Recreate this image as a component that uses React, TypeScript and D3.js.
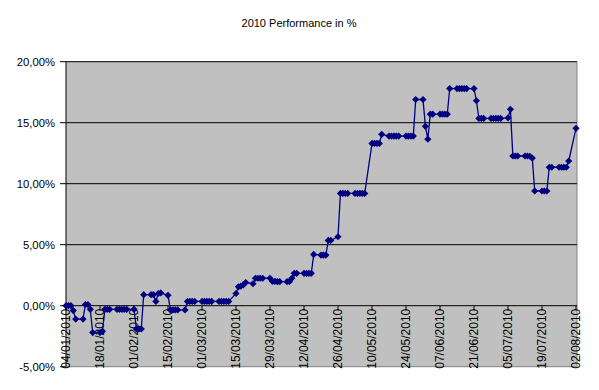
import React from "react";
import * as d3 from "d3";

const title = "2010 Performance in %";
const startDate = "2010-01-04";
const endDate = "2010-08-02";
// one value per business day (Mon..Fri), weeks starting 04/01/2010
const week01 = [0, 0, 0, -0.4, -1.1];
const week02 = [-1.1, 0.1, 0.1, -0.3, -2.2];
const week03 = [-2.2, -2.1, -0.3, -0.3, -0.3];
const week04 = [-0.3, -0.3, -0.3, -0.3, -0.3];
const week05 = [-0.3, -1.9, -1.9, -1.9, 0.9];
const week06 = [0.9, 0.9, 0.35, 1.0, 1.05];
const week07 = [0.85, -0.35, -0.35, -0.35, -0.35];
const week08 = [-0.35, 0.35, 0.35, 0.35, 0.35];
const week09 = [0.35, 0.35, 0.35, 0.35, 0.35];
const week10 = [0.35, 0.35, 0.35, 0.35, 0.35];
const week11 = [1.0, 1.55, 1.6, 1.7, 1.9];
const week12 = [1.8, 2.25, 2.25, 2.25, 2.25];
const week13 = [2.25, 2.0, 2.0, 1.97, 1.97];
const week14 = [1.97, 1.97, 2.25, 2.65, 2.65];
const week15 = [2.65, 2.65, 2.65, 2.65, 4.2];
const week16 = [4.15, 4.15, 4.15, 5.35, 5.35];
const week17 = [5.65, 9.2, 9.2, 9.2, 9.2];
const week18 = [9.2, 9.2, 9.2, 9.2, 9.2];
const week19 = [13.3, 13.3, 13.3, 13.3, 14.05];
const week20 = [13.9, 13.9, 13.9, 13.9, 13.9];
const week21 = [13.9, 13.9, 13.9, 13.9, 16.9];
const week22 = [16.9, 14.7, 13.65, 15.7, 15.7];
const week23 = [15.7, 15.7, 15.7, 15.7, 17.8];
const week24 = [17.8, 17.8, 17.8, 17.8, 17.8];
const week25 = [17.8, 16.8, 15.35, 15.35, 15.35];
const week26 = [15.35, 15.35, 15.35, 15.35, 15.35];
const week27 = [15.4, 16.1, 12.27, 12.27, 12.27];
const week28 = [12.27, 12.27, 12.25, 12.1, 9.4];
const week29 = [9.4, 9.4, 9.4, 11.35, 11.35];
const week30 = [11.35, 11.35, 11.35, 11.35, 11.86];
const week31 = [14.54];

const weeks = [week01, week02, week03, week04, week05, week06, week07, week08, week09, week10,
  week11, week12, week13, week14, week15, week16, week17, week18, week19, week20,
  week21, week22, week23, week24, week25, week26, week27, week28, week29, week30, week31];

const yTicks = [-5, 0, 5, 10, 15, 20];
const xTickLabels = ["04/01/2010", "18/01/2010", "01/02/2010", "15/02/2010", "01/03/2010", "15/03/2010",
  "29/03/2010", "12/04/2010", "26/04/2010", "10/05/2010", "24/05/2010", "07/06/2010", "21/06/2010",
  "05/07/2010", "19/07/2010", "02/08/2010"];

const parse = d3.timeParse("%Y-%m-%d");
const parseLabel = d3.timeParse("%d/%m/%Y");

export default function App() {
  const W = 599, H = 390;
  const left = 66, right = 577, top = 61.7, bottom = 366.7;
  const x = d3.scaleTime().domain([parse(startDate)!, parse(endDate)!]).range([left, 576]);
  const y = d3.scaleLinear().domain([-5, 20]).range([bottom, top]);

  const data: { date: Date; v: number }[] = [];
  const s = parse(startDate)!;
  weeks.forEach((wk, wi) => {
    wk.forEach((v, di) => {
      data.push({ date: d3.timeDay.offset(s, wi * 7 + di), v });
    });
  });

  const line = d3.line<{ date: Date; v: number }>().x(d => x(d.date)).y(d => y(d.v));
  const fmt = (v: number) => v.toFixed(2).replace(".", ",") + "%";
  const font = "'Liberation Sans', Arial, sans-serif";
  const diamond = "M0,-3.6L3.6,0L0,3.6L-3.6,0Z";

  return (
    <svg width={W} height={H} style={{ position: "absolute", left: 0, top: 0, background: "#fff" }}>
      <text x={299} y={27} textAnchor="middle" fontFamily={font} fontSize={11} fill="#000">{title}</text>
      <rect x={left} y={top} width={right - left} height={bottom - top} fill="#C0C0C0" />
      <line x1={right} x2={right} y1={top} y2={bottom} stroke="#808080" strokeWidth={1} />
      <line x1={left} x2={right} y1={bottom} y2={bottom} stroke="#808080" strokeWidth={1} />
      {yTicks.filter(t => t > 0).map(t => (
        <line key={"g" + t} x1={left} x2={right} y1={y(t)} y2={y(t)} stroke="#000" strokeWidth={1} />
      ))}
      {yTicks.map(t => (
        <g key={"y" + t}>
          <line x1={left - 6} x2={left} y1={y(t)} y2={y(t)} stroke="#000" />
          <text x={55} y={y(t)} dy="0.35em" textAnchor="end" fontFamily={font} fontSize={11.3} fill="#000">{fmt(t)}</text>
        </g>
      ))}
      <line x1={left} x2={left} y1={top} y2={bottom} stroke="#000" />
      <line x1={left} x2={right} y1={y(0)} y2={y(0)} stroke="#000" />
      {xTickLabels.map(l => {
        const xx = x(parseLabel(l)!);
        return (
          <g key={l}>
            <line x1={xx} x2={xx} y1={y(0)} y2={y(0) + 5} stroke="#000" />
            <text transform={`translate(${xx},${y(0) + 3}) rotate(-90)`} dy="0.35em" textAnchor="end"
              fontFamily={font} fontSize={12} fill="#000">{l}</text>
          </g>
        );
      })}
      <path d={line(data)!} fill="none" stroke="#000080" strokeWidth={1.3} />
      {data.map((d, i) => (
        <path key={i} d={diamond} transform={`translate(${x(d.date)},${y(d.v)})`} fill="#000080" />
      ))}
    </svg>
  );
}
